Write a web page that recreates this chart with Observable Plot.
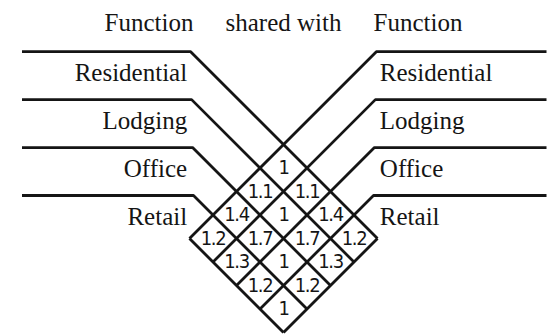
<!DOCTYPE html>
<html><head><meta charset="utf-8">
<script src="https://cdn.jsdelivr.net/npm/d3@7"></script>
<script src="https://cdn.jsdelivr.net/npm/@observablehq/plot@0.6"></script>
<style>
body{margin:0;background:#fff}
g[font-family^="Liberation Sans Narrow"] text{letter-spacing:-1.4px}
</style></head><body><div id="chart"></div>
<script>
// ---- data ----
const functions = ["Residential", "Lodging", "Office", "Retail"];
const headerLabels = ["Function", "shared with", "Function"];
const residentialShared = [1, 1.1, 1.4, 1.2];
const lodgingShared     = [1.1, 1, 1.7, 1.3];
const officeShared      = [1.4, 1.7, 1, 1.2];
const retailShared      = [1.2, 1.3, 1.2, 1];
const sharedRows = [residentialShared, lodgingShared, officeShared, retailShared];

// ---- layout (step units of the rotated grid) ----
const W = 556, H = 334, cx = 283, cy = 144, s = 23.5;
const n = functions.length;
const lineStart = (21.5 - cx) / s, lineEnd = (546 - cx) / s;
const rowY = i => -3.95 + 2.04 * i;          // level of the horizontal rule above function i
const cornerX = i => rowY(i) - 2 * i;         // where the rule turns into a 45° diagonal

const lines = [];
for (let i = 0; i <= n; i++) {
  const L = i < n
    ? [[lineStart, rowY(i)], [cornerX(i), rowY(i)], [n - i, i + n]]
    : [[-n, n], [0, 2 * n]];
  L.forEach(([X, Y]) => lines.push({X, Y, id: "L" + i}));
  const R = i < n
    ? [[lineEnd, rowY(i)], [-cornerX(i), rowY(i)], [i - n, n + i]]
    : [[n, n], [0, 2 * n]];
  R.forEach(([X, Y]) => lines.push({X, Y, id: "R" + i}));
}

const cells = [];
functions.forEach((fa, a) => functions.forEach((fb, b) => {
  cells.push({left: fa, right: fb, X: b - a, Y: a + b + 1, value: sharedRows[a][b]});
}));

const labelsLeft = functions.map((f, i) => ({text: f, X: cornerX(0) - 0.15, Y: rowY(i) + 1.25}));
const labelsRight = functions.map((f, i) => ({text: f, X: -cornerX(0) + 0.15, Y: rowY(i) + 1.25}));
const headY = (30 - cy) / s;
const headers = [
  {text: headerLabels[0], X: cornerX(0) + 0.12, Y: headY, anchor: "end"},
  {text: headerLabels[1], X: 0, Y: headY, anchor: "middle"},
  {text: headerLabels[2], X: -cornerX(0) - 0.12, Y: headY, anchor: "start"}
];

const serif = "Liberation Serif, Times New Roman, serif";
const narrow = "Liberation Sans Narrow, Arial Narrow, DejaVu Sans Condensed, sans-serif";
const ink = "#151515";

const chart = Plot.plot({
  width: W, height: H,
  margin: 0,
  x: {domain: [-cx / s, (W - cx) / s], axis: null},
  y: {domain: [-cy / s, (H - cy) / s], reverse: true, axis: null},
  style: {background: "#fff"},
  marks: [
    Plot.line(lines, {x: "X", y: "Y", z: "id", stroke: ink, strokeWidth: 2.8, strokeLinejoin: "miter", strokeLinecap: "butt"}),
    Plot.text(cells, {x: "X", y: "Y", text: d => String(d.value), fontFamily: narrow, fontSize: 20, fill: ink}),
    Plot.text(labelsLeft, {x: "X", y: "Y", text: "text", textAnchor: "end", lineAnchor: "bottom", fontFamily: serif, fontSize: 25, fill: ink}),
    Plot.text(labelsRight, {x: "X", y: "Y", text: "text", textAnchor: "start", lineAnchor: "bottom", fontFamily: serif, fontSize: 25, fill: ink}),
    Plot.text(headers.filter(d => d.anchor === "end"), {x: "X", y: "Y", text: "text", textAnchor: "end", lineAnchor: "bottom", fontFamily: serif, fontSize: 25, fill: ink}),
    Plot.text(headers.filter(d => d.anchor === "middle"), {x: "X", y: "Y", text: "text", textAnchor: "middle", lineAnchor: "bottom", fontFamily: serif, fontSize: 25, fill: ink}),
    Plot.text(headers.filter(d => d.anchor === "start"), {x: "X", y: "Y", text: "text", textAnchor: "start", lineAnchor: "bottom", fontFamily: serif, fontSize: 25, fill: ink})
  ]
});
document.getElementById("chart").append(chart);
</script></body></html>
